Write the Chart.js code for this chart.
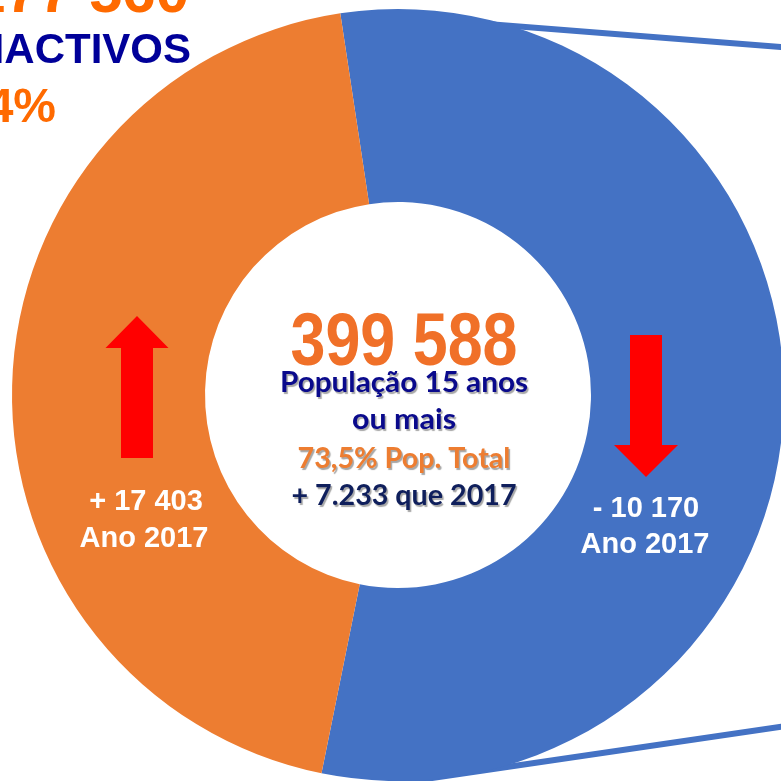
<!DOCTYPE html>
<html>
<head>
<meta charset="utf-8">
<script src="https://cdn.jsdelivr.net/npm/chart.js@4.4.1/dist/chart.umd.min.js"></script>
<style>
  html, body { margin: 0; padding: 0; background: #fff; overflow: hidden; }
  #wrap { width: 800px; height: 800px; }
</style>
</head>
<body>
<div id="wrap"><canvas id="donut" width="800" height="800"></canvas></div>
<script>
// data
const categories = ["Activos", "Inactivos"];
const population = [222028, 177560];
const changeLabels = ["- 10 170", "+ 17 403"];
const changeYear = "Ano 2017";
const totalLabel = "399 588";
const centerLines = ["População 15 anos", "ou mais", "73,5% Pop. Total", "+ 7.233 que 2017"];
const inactiveHeader = ["177 560", "INACTIVOS", "44%"];

const donutElement = document.getElementById("donut");

function drawArrow(ctx, x, tipY, baseY, headY, shaftW, headW) {
  // x = centre line, tipY = point, baseY = end of shaft, headY = where head meets shaft
  ctx.beginPath();
  ctx.moveTo(x, tipY);
  ctx.lineTo(x + headW / 2, headY);
  ctx.lineTo(x + shaftW / 2, headY);
  ctx.lineTo(x + shaftW / 2, baseY);
  ctx.lineTo(x - shaftW / 2, baseY);
  ctx.lineTo(x - shaftW / 2, headY);
  ctx.lineTo(x - headW / 2, headY);
  ctx.closePath();
  ctx.fill();
}

// draw centred text stretched/squeezed to a given width
function fitText(ctx, text, x, y, width) {
  const w = ctx.measureText(text).width;
  ctx.save();
  ctx.translate(x, y);
  ctx.scale(width / w, 1);
  ctx.fillText(text, 0, 0);
  ctx.restore();
}

const decorations = {
  id: "decorations",
  beforeDatasetsDraw(chart) {
    const ctx = chart.ctx;
    const arc = chart.getDatasetMeta(0).data[0];
    const cx = arc.x, cy = arc.y, R = arc.outerRadius;
    // connector lines towards the next chart
    ctx.save();
    ctx.strokeStyle = "#4472C4";
    ctx.lineWidth = 6;
    ctx.beginPath();
    ctx.moveTo(cx, cy - R + 8);
    ctx.lineTo(chart.width, 48.5);
    ctx.stroke();
    ctx.beginPath();
    ctx.moveTo(cx, cy + R + 2);
    ctx.lineTo(chart.width, 724);
    ctx.stroke();
    ctx.restore();
  },
  afterDraw(chart) {
    const ctx = chart.ctx;
    const arc = chart.getDatasetMeta(0).data[0];
    const cx = arc.x, cy = arc.y;
    ctx.save();
    ctx.textBaseline = "alphabetic";

    // header of the inactive block (cut at the top-left)
    ctx.textAlign = "right";
    ctx.fillStyle = "#FF6A00";
    ctx.font = "bold 60px 'Liberation Sans', Arial, sans-serif";
    ctx.fillText(inactiveHeader[0], 189, 12);
    ctx.fillStyle = "#000099";
    ctx.font = "bold 42px 'Liberation Sans', Arial, sans-serif";
    ctx.fillText(inactiveHeader[1], 191, 63);
    ctx.fillStyle = "#FF6A00";
    ctx.font = "bold 48px 'Liberation Sans', Arial, sans-serif";
    ctx.fillText(inactiveHeader[2], 56, 122);

    // centre text
    ctx.textAlign = "center";
    ctx.fillStyle = "#F07028";
    ctx.font = "bold 75px 'Liberation Sans', Arial, sans-serif";
    fitText(ctx, totalLabel, cx + 6, cy - 30, 227);

    ctx.shadowColor = "rgba(0,0,0,0.35)";
    ctx.shadowOffsetX = 1.5;
    ctx.shadowOffsetY = 1.5;
    ctx.shadowBlur = 1;
    const lineStyles = [
      { color: "#0A0A8C", y: -3, w: 248 },
      { color: "#0A0A8C", y: 34, w: 104 },
      { color: "#ED7D31", y: 73, w: 213 },
      { color: "#0F1F5C", y: 110, w: 225 }
    ];
    ctx.font = "bold 28px Lato, 'Open Sans', sans-serif";
    centerLines.forEach((t, i) => {
      const s = lineStyles[i];
      ctx.fillStyle = s.color;
      fitText(ctx, t, cx + 6, cy + s.y, s.w);
    });
    ctx.shadowColor = "transparent";

    // arrows
    ctx.fillStyle = "#FF0000";
    drawArrow(ctx, cx - 261, cy - 79, cy + 63, cy - 47, 32, 63);
    drawArrow(ctx, cx + 248, cy + 82, cy - 60, cy + 50, 32, 64);

    // change labels
    ctx.fillStyle = "#FFFFFF";
    ctx.font = "bold 29px 'Liberation Sans', Arial, sans-serif";
    ctx.fillText(changeLabels[1], cx - 252, cy + 115);
    ctx.fillText(changeYear, cx - 254, cy + 152);
    ctx.fillText(changeLabels[0], cx + 248, cy + 122);
    ctx.fillText(changeYear, cx + 247, cy + 158);
    ctx.restore();
  }
};

const chart = new Chart(donutElement, {
  type: "doughnut",
  data: {
    labels: categories,
    datasets: [
      {
        data: population,
        backgroundColor: ["#4472C4", "#ED7D31"],
        borderWidth: 0,
        hoverOffset: 0
      }
    ]
  },
  options: {
    responsive: false,
    animation: false,
    devicePixelRatio: 1,
    rotation: -8.6,
    cutout: "50%",
    layout: { padding: { left: 12, top: 9, right: 16, bottom: 19 } },
    plugins: {
      legend: { display: false },
      tooltip: { enabled: false }
    },
    events: []
  },
  plugins: [decorations]
});
</script>
</body>
</html>
